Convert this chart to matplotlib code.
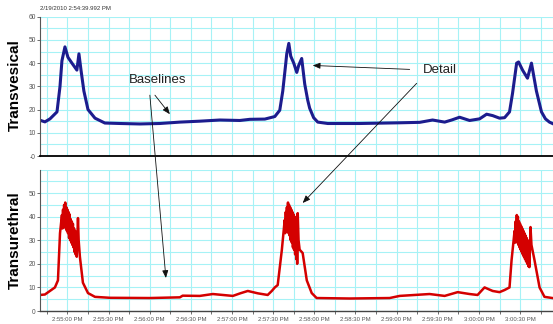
import matplotlib
matplotlib.use('Agg')
import matplotlib.pyplot as plt
from matplotlib.patches import ConnectionPatch
from matplotlib.ticker import MultipleLocator

# time in seconds after 2:54:40 PM
blue_t = [0, 3.6, 7.3, 12.4, 14.6, 16.0, 18.2, 20.4, 23.3, 26.9, 28.4, 29.9, 32.0, 35.0, 40.1,
          47.3, 58.3, 72.8, 87.4, 102, 116.5, 131.1, 145.7, 153, 163.9, 171.2, 174.8, 177, 179.2,
          179.9, 181.4, 182.8, 185, 187.2, 188.6, 190.8, 193, 195.2, 196.6, 199.5, 202.5, 209.8,
          233, 262.2, 276.8, 286.2, 295, 300.1, 305.9, 313.2, 320.5, 325.6, 330, 335, 338.7,
          342.3, 344.5, 347.5, 348.9, 351.8, 355.4, 358.3, 361.9, 365.6, 368.5, 371.4, 373.6]
blue_v = [15.4, 14.7, 16, 19, 30, 41, 47, 42.5, 40, 37, 44, 37, 28, 20, 16.3,
          14.2, 14, 13.8, 14, 14.6, 15, 15.5, 15.3, 15.8, 15.9, 17, 19.7, 28, 40,
          44, 48.5, 43, 40, 36, 39, 42, 31, 24, 20.6, 16.5, 14.6, 14,
          14, 14.3, 14.5, 15.5, 14.6, 15.5, 16.7, 15.3, 16, 18, 17.4, 16.3, 16.5,
          19, 27, 40, 40.5, 37, 33.5, 40, 28, 19, 16, 14.6, 14]

red_t = [0, 3.6, 7.3, 10.9, 13.1, 14.6, 16.0,
         16.4, 16.8, 17.2, 17.6, 18.0, 18.4, 18.8, 19.2, 19.6, 20.0, 20.4, 20.8, 21.2, 21.6,
         22.0, 22.4, 22.8, 23.2, 23.6, 24.0, 24.4, 24.8, 25.2, 25.6, 26.0, 26.4, 26.8, 27.2,
         27.7, 28.2, 29.1, 31.3, 35.0, 40.1, 51, 80, 102, 104, 116.5, 126, 140.6, 146, 151.5,
         158.8, 166, 169, 171.2, 173.3, 176.3, 178.4,
         178.8, 179.2, 179.6, 180.0, 180.4, 180.8, 181.2, 181.6, 182.0, 182.4, 182.8, 183.2,
         183.6, 184.0, 184.4, 184.8, 185.2, 185.6, 186.0, 186.4, 186.8, 187.2, 187.5,
         187.9, 188.5, 189.3, 191.5, 194.5, 198.1, 201.7, 225.8, 254.9, 262.2, 284, 295,
         304.5, 313.2, 319, 324.1, 330, 335, 338.7, 342.3, 343.8,
         346.0, 346.4, 346.8, 347.2, 347.6, 348.0, 348.4, 348.8, 349.2, 349.6, 350.0, 350.4,
         350.8, 351.2, 351.6, 352.0, 352.4, 352.8, 353.2, 353.6, 354.0, 354.4, 354.8, 355.2,
         355.6, 356.0, 356.4, 356.8,
         357.6, 358.3, 360.5, 364.2, 367.8, 373.6]
red_v = [6.8, 7, 8.5, 10, 13, 33, 40.7,
         35, 43, 36, 45, 37, 46, 35, 44, 34, 43, 33, 42, 31, 41,
         30, 39, 29, 38, 28, 37, 27, 35, 25, 34, 24, 33, 23, 31,
         39.4, 30, 23, 12, 7.6, 6, 5.6, 5.5, 5.8, 6.5, 6.4, 7.2, 6.4, 7.5, 8.5,
         7.5, 6.8, 8.5, 10, 11, 25.8, 38.6,
         33, 42, 34, 44, 35, 46, 33, 45, 32, 44, 30, 43,
         29, 42, 27, 41, 26, 40, 24, 39, 22, 37, 20,
         41.5, 30, 26, 24.6, 13, 7.6, 5.5, 5.3, 5.5, 6.4, 7.2, 6.4,
         8, 7.2, 6.8, 10, 8.5, 8, 8.9, 10, 21.6,
         34, 29, 38, 30, 40.7, 29, 40, 28, 38, 27, 37, 26,
         36, 25, 35, 24, 34, 23, 33, 22, 32, 21, 31, 20,
         30, 19, 29, 18.6,
         35.6, 28, 21.6, 10, 6, 5.5]

tick_sec = [20, 50, 80, 110, 140, 170, 200, 230, 260, 290, 320, 350]
tick_labels = ['2:55:00 PM', '2:55:30 PM', '2:56:00 PM', '2:56:30 PM', '2:57:00 PM', '2:57:30 PM',
               '2:58:00 PM', '2:58:30 PM', '2:59:00 PM', '2:59:30 PM', '3:00:00 PM', '3:00:30 PM']
top_yticks = [0, 10, 20, 30, 40, 50, 60]
top_ylabels = ['-0', '10', '20', '30', '40', '50', '60']
bot_yticks = [0, 10, 20, 30, 40, 50]
bot_ylabels = ['0', '10', '20', '30', '40', '50']
start_stamp = '2/19/2010 2:54:39.992 PM'

grid_c = '#a6f2f6'
plt.rcParams['font.family'] = ['Liberation Sans', 'DejaVu Sans']

fig = plt.figure(figsize=(5.53, 3.24), dpi=100)
ax1 = fig.add_axes([0.0723, 0.5185, 0.9277, 0.430])
ax2 = fig.add_axes([0.0723, 0.0401, 0.9277, 0.4367])

for ax in (ax1, ax2):
    ax.set_xlim(0, 374)
    ax.set_ylim(0, 60)
    ax.set_xticks([t - 15 for t in tick_sec] + [365], minor=True)
    ax.yaxis.set_minor_locator(MultipleLocator(5))
    ax.grid(True, which='both', color=grid_c, lw=0.8)
    ax.set_axisbelow(True)
    for s in ('top', 'right'):
        ax.spines[s].set_visible(False)
    ax.spines['left'].set_color('#555555')
    ax.spines['left'].set_linewidth(0.8)
    ax.tick_params(which='minor', length=0)
    ax.tick_params(axis='y', length=2, width=0.6, colors='#555555', pad=1, labelsize=4.8)

ax1.plot(blue_t, blue_v, color='#1c1c8e', lw=2.2, solid_joinstyle='round')
ax2.plot(red_t, red_v, color='#d40000', lw=1.8, solid_joinstyle='round')

ax1.set_xticks(tick_sec)
ax1.tick_params(axis='x', length=0, labelbottom=False)
ax1.spines['bottom'].set_color('black')
ax1.spines['bottom'].set_linewidth(1.3)
ax1.set_yticks(top_yticks, top_ylabels)
ax1.set_title(start_stamp, loc='left', fontsize=4.3, pad=5, color='#333333')

ax2.set_xticks(tick_sec, tick_labels)
ax2.tick_params(axis='x', which='both', length=2.5, width=0.6, colors='#555555', labelsize=4.3, pad=2)
ax2.spines['bottom'].set_color('#444444')
ax2.spines['bottom'].set_linewidth(1.0)
ax2.set_yticks(bot_yticks, bot_ylabels)

fig.text(0.027, 0.738, 'Transvesical', rotation=90, ha='center', va='center',
         fontsize=11, fontweight='bold')
fig.text(0.027, 0.258, 'Transurethral', rotation=90, ha='center', va='center',
         fontsize=11, fontweight='bold')

ax1.text(86, 32.6, 'Baselines', ha='center', va='center', fontsize=9.5, color='#222222')
ax1.text(291.5, 37, 'Detail', ha='center', va='center', fontsize=9.5, color='#222222')

arrow_kw = dict(arrowstyle='-|>,head_length=0.45,head_width=0.18', color='#111111', lw=0.6)
for (a_pt, a_ax, b_pt, b_ax) in [((83.8, 26.2), ax1, (94.7, 18), ax1),
                                 ((80.1, 26.2), ax1, (91.8, 14), ax2),
                                 ((269.5, 37.3), ax1, (198.8, 39), ax1),
                                 ((274.6, 31.3), ax1, (191.5, 45.8), ax2)]:
    con = ConnectionPatch(xyA=a_pt, coordsA=a_ax.transData, xyB=b_pt, coordsB=b_ax.transData,
                          **arrow_kw)
    fig.add_artist(con)

fig.savefig('out.png', dpi=100)
